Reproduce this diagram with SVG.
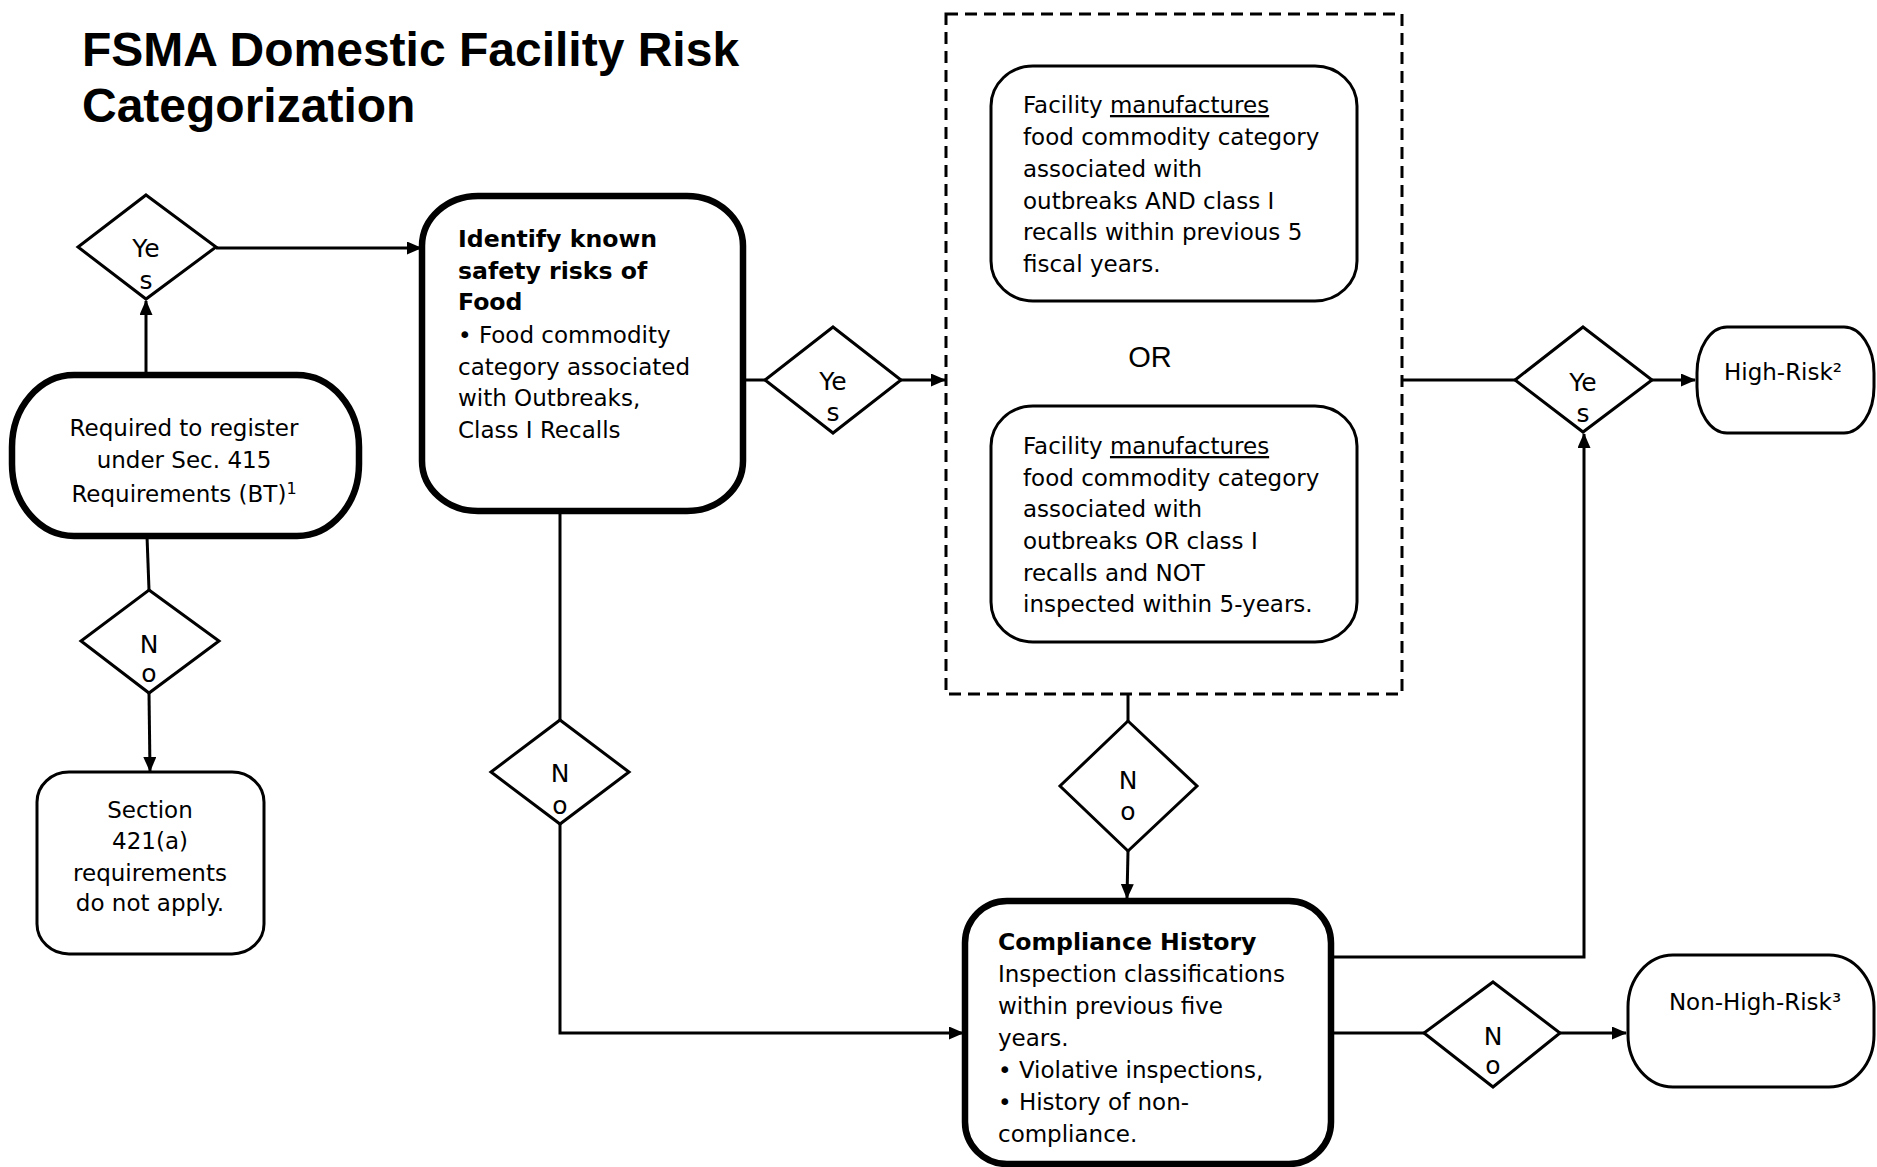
<svg xmlns="http://www.w3.org/2000/svg" width="1877" height="1167" viewBox="0 0 1877 1167">
<style>
.t{font-family:"DejaVu Sans",Verdana,sans-serif;font-size:23px;fill:#000}
.b{font-weight:bold;font-size:23.6px}
.c{text-anchor:middle}
.d{font-size:25px}
.thick{fill:#fff;stroke:#000;stroke-width:6.5}
.thin{fill:#fff;stroke:#000;stroke-width:3}
.dia{fill:#fff;stroke:#000;stroke-width:3;stroke-linejoin:miter}
.ln{fill:none;stroke:#000;stroke-width:3}
.ttl{font-family:"Liberation Sans",Arial,sans-serif;font-weight:bold;font-size:48px;fill:#000}
</style>
<defs>
<marker id="ah" markerUnits="userSpaceOnUse" markerWidth="15" markerHeight="13" refX="14" refY="6.5" orient="auto">
<path d="M0,0 L15,6.5 L0,13 z" fill="#000"/>
</marker>
</defs>
<rect width="1877" height="1167" fill="#fff"/>

<g id="title">
<text class="ttl" x="82" y="66">FSMA Domestic Facility Risk</text>
<text class="ttl" x="82" y="122">Categorization</text>
</g>

<g id="connectors">
<path class="ln" d="M146,375 L146,301" marker-end="url(#ah)"/>
<path class="ln" d="M216,248 L421,248" marker-end="url(#ah)"/>
<path class="ln" d="M147,536 L149,590"/>
<path class="ln" d="M149,693 L150,771" marker-end="url(#ah)"/>
<path class="ln" d="M743,380 L765,380"/>
<path class="ln" d="M901,380 L945,380" marker-end="url(#ah)"/>
<path class="ln" d="M560,511 L560,720"/>
<path class="ln" d="M560,824 L560,1033 L963,1033" marker-end="url(#ah)"/>
<path class="ln" d="M1128,694 L1128,721"/>
<path class="ln" d="M1128,851 L1127,898" marker-end="url(#ah)"/>
<path class="ln" d="M1402,380 L1515,380"/>
<path class="ln" d="M1652,380 L1695,380" marker-end="url(#ah)"/>
<path class="ln" d="M1331,957 L1584,957 L1584,434" marker-end="url(#ah)"/>
<path class="ln" d="M1331,1033 L1424,1033"/>
<path class="ln" d="M1560,1033 L1626,1033" marker-end="url(#ah)"/>
</g>

<g id="dashed-group">
<rect x="946" y="14" width="456" height="680" fill="none" stroke="#000" stroke-width="3" stroke-dasharray="12 7"/>
<text x="1150" y="367" text-anchor="middle" font-family="Liberation Sans, Arial, sans-serif" font-size="29">OR</text>
</g>

<g id="required">
<rect class="thick" x="12" y="375" width="347" height="161" rx="62" ry="72"/>
<text class="t c" x="184" y="436">Required to register</text>
<text class="t c" x="184" y="468">under Sec. 415</text>
<text class="t c" x="184" y="502">Requirements (BT)<tspan font-size="16" dy="-8">1</tspan></text>
</g>

<g id="yes1">
<polygon class="dia" points="146,195 216,247 146,299 78,247"/>
<text class="t c d" x="146" y="257">Ye</text>
<text class="t c d" x="146" y="289">s</text>
</g>

<g id="no1">
<polygon class="dia" points="149,590 219,641 149,693 81,641"/>
<text class="t c d" x="149" y="653">N</text>
<text class="t c d" x="149" y="682">o</text>
</g>

<g id="section">
<rect class="thin" x="37" y="772" width="227" height="182" rx="32" ry="30"/>
<text class="t c" x="150" y="818">Section</text>
<text class="t c" x="150" y="849">421(a)</text>
<text class="t c" x="150" y="881">requirements</text>
<text class="t c" x="150" y="911">do not apply.</text>
</g>

<g id="identify">
<rect class="thick" x="422" y="196" width="321" height="315" rx="56" ry="50"/>
<text class="t b" x="458" y="247">Identify known</text>
<text class="t b" x="458" y="279">safety risks of</text>
<text class="t b" x="458" y="310">Food</text>
<text class="t" x="458" y="343">• Food commodity</text>
<text class="t" x="458" y="375">category associated</text>
<text class="t" x="458" y="406">with Outbreaks,</text>
<text class="t" x="458" y="438">Class I Recalls</text>
</g>

<g id="yes2">
<polygon class="dia" points="833,327 901,380 833,433 765,380"/>
<text class="t c d" x="833" y="390">Ye</text>
<text class="t c d" x="833" y="421">s</text>
</g>

<g id="no3">
<polygon class="dia" points="560,720 629,772 560,824 491,772"/>
<text class="t c d" x="560" y="782">N</text>
<text class="t c d" x="560" y="814">o</text>
</g>

<g id="criteria-and">
<rect class="thin" x="991" y="66" width="366" height="235" rx="42" ry="40"/>
<text class="t" x="1023" y="113">Facility <tspan text-decoration="underline">manufactures</tspan></text>
<text class="t" x="1023" y="145">food commodity category</text>
<text class="t" x="1023" y="177">associated with</text>
<text class="t" x="1023" y="209">outbreaks AND class I</text>
<text class="t" x="1023" y="240">recalls within previous 5</text>
<text class="t" x="1023" y="272">fiscal years.</text>
</g>

<g id="criteria-or">
<rect class="thin" x="991" y="406" width="366" height="236" rx="42" ry="40"/>
<text class="t" x="1023" y="454">Facility <tspan text-decoration="underline">manufactures</tspan></text>
<text class="t" x="1023" y="486">food commodity category</text>
<text class="t" x="1023" y="517">associated with</text>
<text class="t" x="1023" y="549">outbreaks OR class I</text>
<text class="t" x="1023" y="581">recalls and NOT</text>
<text class="t" x="1023" y="612">inspected within 5-years.</text>
</g>

<g id="no-mid">
<polygon class="dia" points="1128,721 1197,786 1128,851 1060,786"/>
<text class="t c d" x="1128" y="789">N</text>
<text class="t c d" x="1128" y="820">o</text>
</g>

<g id="yes3">
<polygon class="dia" points="1583,327 1652,380 1583,432 1515,380"/>
<text class="t c d" x="1583" y="391">Ye</text>
<text class="t c d" x="1583" y="422">s</text>
</g>

<g id="high-risk">
<rect class="thin" x="1697" y="327" width="177" height="106" rx="30" ry="46"/>
<text class="t c" x="1783" y="380">High-Risk²</text>
</g>

<g id="compliance">
<rect class="thick" x="965" y="901" width="366" height="263" rx="42" ry="42"/>
<text class="t b" x="998" y="950">Compliance History</text>
<text class="t" x="998" y="982">Inspection classifications</text>
<text class="t" x="998" y="1014">within previous five</text>
<text class="t" x="998" y="1046">years.</text>
<text class="t" x="998" y="1078">• Violative inspections,</text>
<text class="t" x="998" y="1110">• History of non-</text>
<text class="t" x="998" y="1142">compliance.</text>
</g>

<g id="no2">
<polygon class="dia" points="1493,982 1560,1033 1493,1087 1424,1033"/>
<text class="t c d" x="1493" y="1045">N</text>
<text class="t c d" x="1493" y="1074">o</text>
</g>

<g id="non-high-risk">
<rect class="thin" x="1628" y="955" width="246" height="132" rx="45" ry="52"/>
<text class="t c" x="1755" y="1010">Non-High-Risk³</text>
</g>
</svg>
